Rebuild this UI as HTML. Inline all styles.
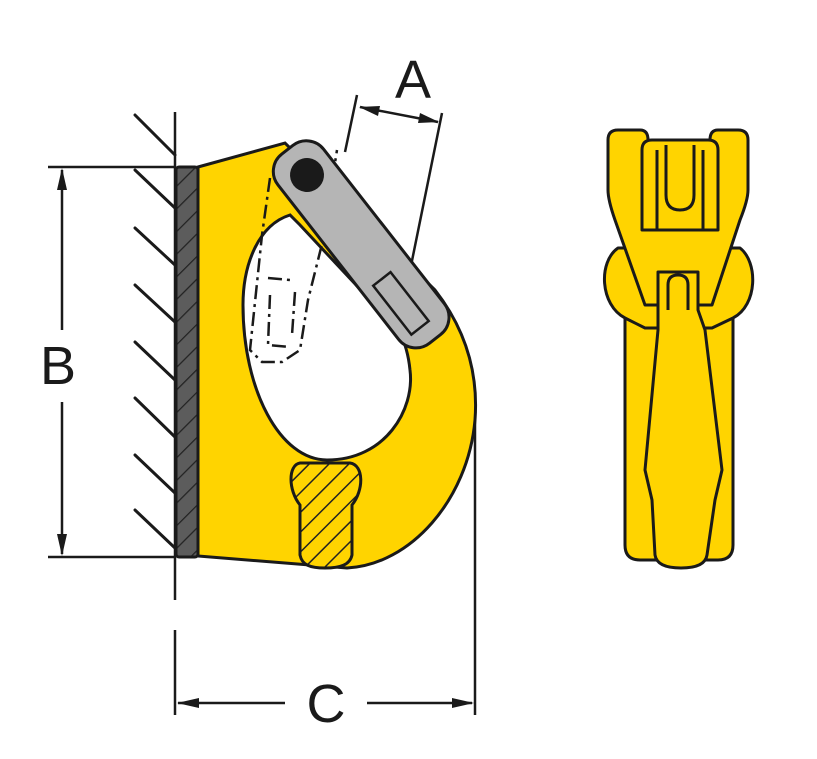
<!DOCTYPE html>
<html><head><meta charset="utf-8"><style>html,body{margin:0;padding:0;background:#fff}svg{display:block}</style></head>
<body>
<svg width="817" height="759" viewBox="0 0 817 759" xmlns="http://www.w3.org/2000/svg">
<defs>
<pattern id="h1" patternUnits="userSpaceOnUse" width="14" height="14" patternTransform="rotate(45)">
<rect width="14" height="14" fill="#FFD400"/><line x1="0" y1="0" x2="0" y2="14" stroke="#222" stroke-width="3"/></pattern>
<pattern id="h2" patternUnits="userSpaceOnUse" width="16" height="16" patternTransform="rotate(45)">
<rect width="16" height="16" fill="#5c5c5c"/><line x1="0" y1="0" x2="0" y2="16" stroke="#222" stroke-width="2.5"/></pattern>
</defs>
<g stroke="#1a1a1a" stroke-width="3" fill="none" stroke-linecap="round">
<path d="M135 115 L175 155 M135 170 L175 208 M135 228 L175 265 M135 285 L175 322 M135 342 L175 380 M135 398 L175 437 M135 455 L175 493 M135 510 L175 548"/>
</g>
<g stroke="#1a1a1a" stroke-width="2.5" fill="none">
<line x1="175" y1="112" x2="175" y2="600"/>
<line x1="175" y1="630" x2="175" y2="715"/>
<line x1="48" y1="167" x2="175" y2="167"/>
<line x1="48" y1="557" x2="175" y2="557"/>
<line x1="62" y1="170" x2="62" y2="330"/>
<line x1="62" y1="402" x2="62" y2="554"/>
<line x1="475" y1="410" x2="475" y2="715"/>
<line x1="178" y1="703" x2="285" y2="703"/>
<line x1="367" y1="703" x2="472" y2="703"/>
<line x1="357" y1="95" x2="345" y2="152"/>
<line x1="442" y1="113" x2="403" y2="305"/>
<line x1="360" y1="107" x2="438" y2="122"/>
</g>
<g fill="#1a1a1a">
<path d="M62 168 L57 190 L67 190 Z"/><path d="M62 556 L57 534 L67 534 Z"/>
<path d="M177 703 L199 698 L199 708 Z"/><path d="M474 703 L452 698 L452 708 Z"/>
<path d="M359 107 L380 106 L378 116 Z"/><path d="M439 122 L418 123 L420 113 Z"/>
</g>
<path d="M198 167 L285 143 L435 290 C470 335 478 380 475 420 C468 500 410 565 347 568 L198 556 Z" fill="#FFD400" stroke="#1a1a1a" stroke-width="3"/>
<path d="M290 215 C258 225 243 265 243 305 C243 390 280 460 327 460 C385 460 415 410 410 370 C408 350 403 340 400 332 L300 225 Z" fill="#fff" stroke="#1a1a1a" stroke-width="3"/>
<g stroke="#1a1a1a" stroke-width="2.5" fill="none" stroke-dasharray="14 5 3 5">
<path d="M270 178 L262 235 L250 350 L262 362 L282 362 L300 350 L308 300 L323 240 L337 150"/>
<path d="M268 278 L290 280 M270 295 L268 345 L290 347 M295 292 L292 335"/>
</g>
<rect x="176" y="167" width="22" height="390" rx="3" fill="url(#h2)" stroke="#1a1a1a" stroke-width="3"/>
<path d="M300 463 C288 465 288 490 300 505 L300 555 C302 565 310 568 325 568 C340 568 350 565 352 555 L352 505 C364 490 364 465 350 463 Z" fill="url(#h1)" stroke="#1a1a1a" stroke-width="3"/>
<g transform="translate(307 175) rotate(52)">
<rect x="-32" y="-29" width="240" height="58" rx="22" fill="#B5B5B5" stroke="#1a1a1a" stroke-width="3"/>
<rect x="128" y="-6" width="62" height="22" fill="#B5B5B5" stroke="#1a1a1a" stroke-width="2.5"/>
<circle cx="0" cy="0" r="17" fill="#1a1a1a"/>
</g>
<g font-family="Liberation Sans, sans-serif" font-size="54" fill="#1a1a1a" text-anchor="middle">
<text x="413" y="98">A</text>
<text x="58" y="384">B</text>
<text x="326" y="722">C</text>
</g>
<g stroke="#1a1a1a" stroke-width="3" fill="#FFD400" stroke-linejoin="round">
<path d="M625 300 L625 545 Q625 560 640 560 L718 560 Q733 560 733 545 L733 300 Z"/>
<path d="M618 248 C598 262 600 305 625 318 L645 328 L712 328 L733 318 C758 305 758 262 740 248 Z"/>
<path d="M618 130 L640 130 Q648 130 648 140 L648 150 L710 150 L710 140 Q710 130 718 130 L738 130 Q748 130 748 140 L748 190 Q748 200 740 220 L712 305 L645 305 L615 220 Q608 200 608 190 L608 140 Q608 130 618 130 Z"/>
<path d="M642 230 L642 150 Q642 140 652 140 L708 140 Q718 140 718 150 L718 230 Z"/>
<path d="M657 230 L657 150 M703 230 L703 150 M666 145 L666 195 Q666 210 680 210 Q694 210 694 195 L694 145" fill="none"/>
<path d="M658 272 L698 272 L698 310 L705 330 L722 470 L715 500 L707 555 Q705 568 681 568 Q657 568 655 555 L652 500 L645 470 L658 330 L658 310 Z"/>
<path d="M668 310 L668 285 Q668 275 678 275 Q688 275 688 285 L688 310" fill="none"/>
</g>
</svg>
</body></html>
